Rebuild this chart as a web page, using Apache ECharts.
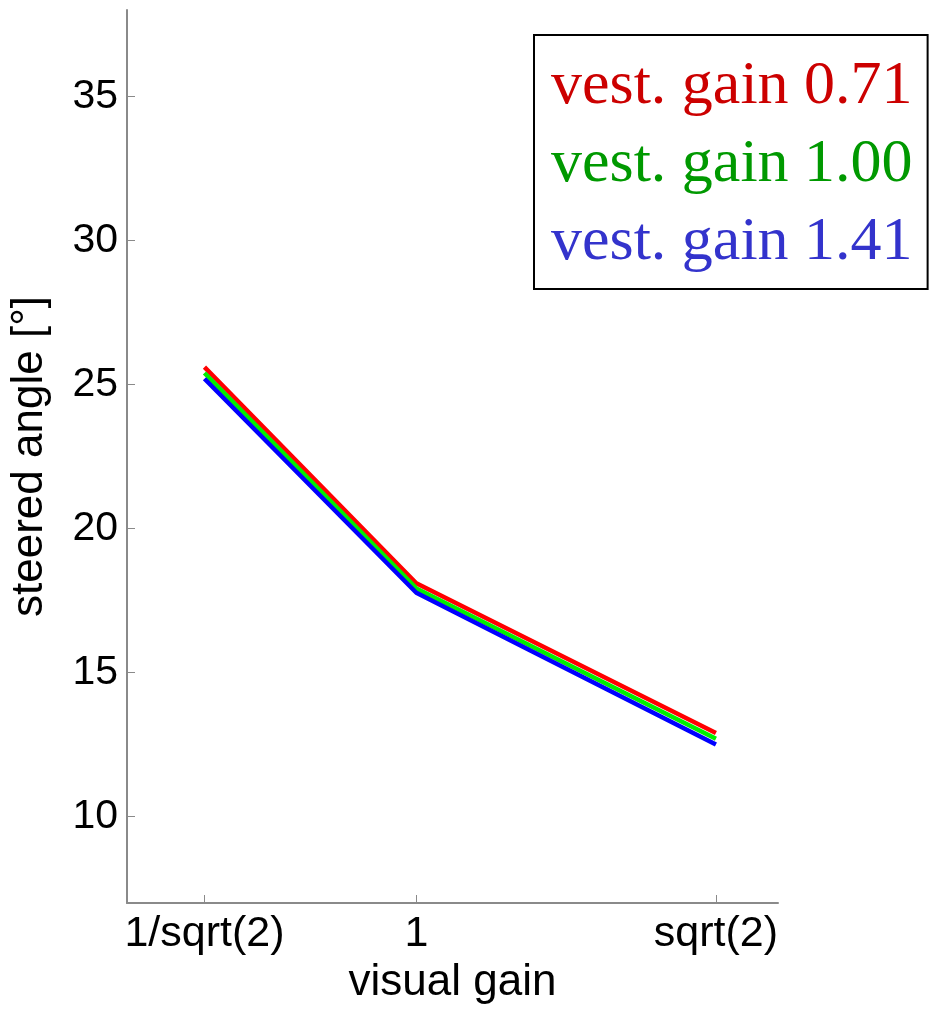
<!DOCTYPE html>
<html>
<head>
<meta charset="utf-8">
<script src="https://cdn.jsdelivr.net/npm/echarts@6/dist/echarts.min.js"></script>
<style>html,body{margin:0;padding:0;background:#fff}#c{width:929px;height:1010px}</style>
</head>
<body>
<div id="c"></div>
<script>
const xValues = [0.7071, 1, 1.4142];
const xTickLabels = ['1/sqrt(2)', '1', 'sqrt(2)'];
const yTicks = [10, 15, 20, 25, 30, 35];
const seriesNames = ['vest. gain 0.71', 'vest. gain 1.00', 'vest. gain 1.41'];
const vest071 = [25.6, 18.1, 12.9];
const vest100 = [25.4, 17.92, 12.7];
const vest141 = [25.2, 17.77, 12.5];
const lineColors = ['#ff0000', '#00ee00', '#0000ff'];
const legendColors = ['#cc0000', '#009900', '#3333cc'];

const allValues = [vest071, vest100, vest141];
const chart = echarts.init(document.getElementById('c'), null, {renderer: 'canvas'});
const axisGray = '#8a8a8a';
const sans = 'Liberation Sans, Arial, Helvetica, sans-serif';

chart.setOption({
  animation: false,
  backgroundColor: '#fff',
  grid: {left: 125, right: 151, top: 10, bottom: 104, containLabel: false},
  xAxis: {
    type: 'value', min: 0.6, max: 1.5,
    name: 'visual gain', nameLocation: 'middle', nameGap: 58,
    nameTextStyle: {fontFamily: sans, fontSize: 44, color: '#000'},
    axisLine: {show: true, onZero: false, lineStyle: {color: axisGray, width: 2}},
    axisTick: {show: true, inside: true, length: 8, customValues: xValues, lineStyle: {color: axisGray, width: 1}},
    axisLabel: {customValues: xValues, margin: 10, fontFamily: sans, fontSize: 43, color: '#000',
      formatter: v => { const i = xValues.findIndex(x => Math.abs(x - v) < 1e-6); return i >= 0 ? xTickLabels[i] : ''; }},
    splitLine: {show: false}
  },
  yAxis: {
    type: 'value', min: 7, max: 38,
    name: 'steered angle [°]', nameLocation: 'middle', nameGap: 75, nameRotate: 90,
    nameTextStyle: {fontFamily: sans, fontSize: 44, color: '#000'},
    axisLine: {show: true, onZero: false, lineStyle: {color: axisGray, width: 2}},
    axisTick: {show: true, inside: true, length: 8, customValues: yTicks, lineStyle: {color: axisGray, width: 1}},
    axisLabel: {customValues: yTicks, margin: 9, fontFamily: sans, fontSize: 41, color: '#000'},
    splitLine: {show: false}
  },
  legend: {
    orient: 'vertical', left: 534, top: 35, icon: 'none', itemWidth: 0, itemHeight: 10, itemGap: 0,
    padding: [13, 15, 7, 12], borderColor: '#000', borderWidth: 2, backgroundColor: '#fff',
    selectedMode: false,
    textStyle: {fontFamily: 'Liberation Serif, Times New Roman, serif', fontSize: 62, lineHeight: 78},
    data: seriesNames.map((n, i) => ({name: n, textStyle: {color: legendColors[i]}}))
  },
  series: seriesNames.map((n, i) => ({
    name: n, type: 'line', symbol: 'none',
    data: xValues.map((x, j) => [x, allValues[i][j]]),
    lineStyle: {color: lineColors[i], width: 4.5},
    itemStyle: {color: lineColors[i]}
  }))
});
</script>
</body>
</html>
